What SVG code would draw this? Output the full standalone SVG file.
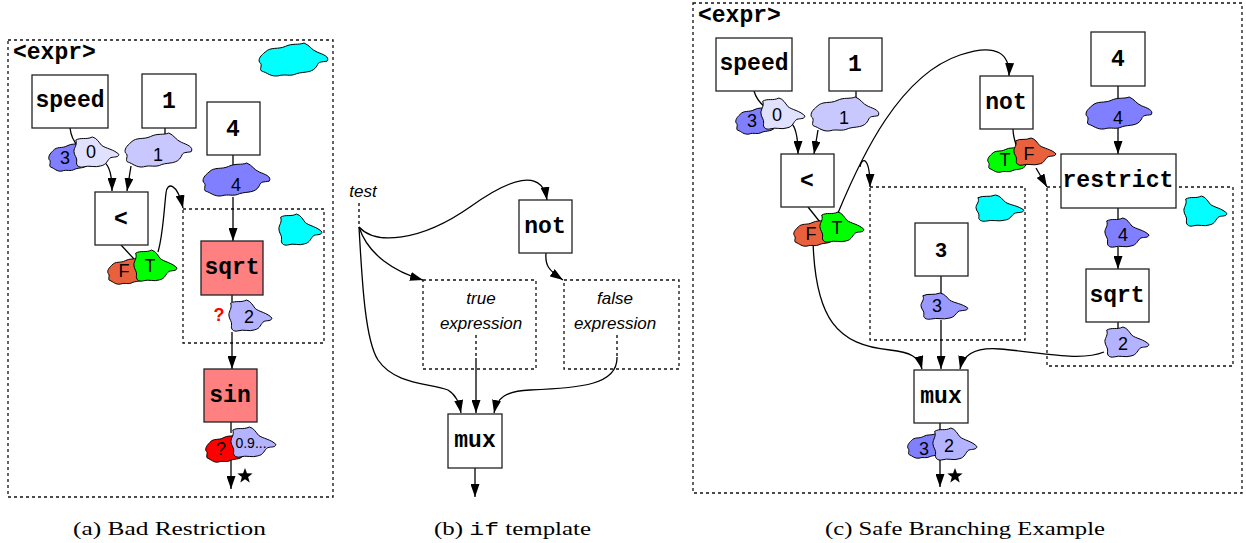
<svg xmlns="http://www.w3.org/2000/svg" xmlns:xlink="http://www.w3.org/1999/xlink" width="1246" height="543" viewBox="0 0 1246 543">
<style>
.box{fill:#fff;stroke:#222;stroke-width:1.3}
.red{fill:#ff8080;stroke:#222;stroke-width:1.3}
.dot{fill:none;stroke:#111;stroke-width:1.3;stroke-dasharray:3,3}
.ln{fill:none;stroke:#000;stroke-width:1.3}
.dl{fill:none;stroke:#000;stroke-width:1.3;stroke-dasharray:3,3}
.arr{marker-end:url(#ah)}
.mono{font-family:"Liberation Mono","DejaVu Sans Mono",monospace;font-weight:bold;font-size:23px;text-anchor:middle;fill:#000}
.sans{font-family:"Liberation Sans",Arial,sans-serif;font-size:18px;text-anchor:middle;fill:#000}
.ital{font-family:"Liberation Sans",Arial,sans-serif;font-style:italic;font-size:17px;text-anchor:middle;fill:#000}
.cap{font-family:"Liberation Serif","Times New Roman",serif;font-size:18px;fill:#000}
.expr{font-family:"Liberation Mono","DejaVu Sans Mono",monospace;font-weight:bold;font-size:23px;fill:#000}
</style>
<defs>
<marker id="ah" viewBox="0 0 13 9" refX="13" refY="4.5" markerWidth="13" markerHeight="9" markerUnits="userSpaceOnUse" orient="auto">
<path d="M0,0 L13,4.5 L0,9 Z" fill="#000"/>
</marker>
<path id="bW" vector-effect="non-scaling-stroke" stroke="#000" stroke-width="1" d="M5,8 C9,3 14,6 19,3 C24,0 28,2 32,0 C36,2 37,6 41,8 C45,10 50,12 48,16 C44,17 42,16 41,20 C38,27 32,25 27,27 C22,30 19,27 14,29 C9,30 6,26 3,25 C0,24 4,19 1,17 C0,14 2,11 5,8 Z"/>
<path id="bF" vector-effect="non-scaling-stroke" stroke="#000" stroke-width="1" d="M3,3 C9,0 14,3 21,0 C26,1 28,5 31,8 C35,11 45,12 50,17 C49,20 45,19 41,20 C37,22 37,27 30,28 C24,30 18,27 11,29 C6,30 3,27 4,24 C5,20 1,18 1,14 C1,10 5,8 3,3 Z"/>
<polygon id="star" points="0,-8 1.94,-2.67 7.61,-2.47 3.14,1.02 4.7,6.47 0,3.3 -4.7,6.47 -3.14,1.02 -7.61,-2.47 -1.94,-2.67" fill="#000"/>
</defs>
<rect width="1246" height="543" fill="#fff"/>

<!-- ================= Panel (a) ================= -->
<g id="a-frame">
<rect class="dot" x="8" y="40" width="325" height="457"/>
<text class="expr" x="13" y="59">&lt;expr&gt;</text>
<use href="#bW" transform="translate(258,43) scale(1.44,1.133)" fill="#00ffff"/>
</g>
<g id="a-inner-frame">
<rect class="dot" x="183" y="209" width="141" height="134"/>
<use href="#bF" transform="translate(278,214) scale(0.88,1.067)" fill="#00ffff"/>
</g>

<g id="a-connectors">
<path class="ln" d="M70,128 C71,136 74,142 78,146"/>
<path class="ln arr" d="M104,162 C110,166 112,175 112,191"/>
<path class="ln" d="M165,128 L165,135"/>
<path class="ln arr" d="M131,166 L127,191"/>
<path class="ln" d="M233,155 L233,166"/>
<path class="ln arr" d="M233,197 L233,241"/>
<path class="ln" d="M121,245 L134,259"/>
<path class="ln arr" d="M158,252 C163,235 164,210 166,193 C167,182 177,182 183,208"/>
<path class="ln" d="M232,294 L232,302"/>
<path class="ln arr" d="M232,332 L232,369"/>
<path class="ln" d="M231,422 L231,433"/>
<path class="ln arr" d="M231,458 L231,489"/>
</g>

<g id="a-speed"><rect class="box" x="32" y="75" width="76" height="53"/><text class="mono" x="70" y="107">speed</text></g>
<g id="a-one"><rect class="box" x="142" y="74" width="54" height="54"/><text class="mono" x="169" y="108">1</text></g>
<g id="a-four"><rect class="box" x="207" y="102" width="53" height="53"/><text class="mono" x="233" y="136">4</text></g>
<g id="a-lt"><rect class="box" x="95" y="192" width="53" height="53"/><text class="mono" x="121" y="226">&lt;</text></g>
<g id="a-sqrt"><rect class="red" x="201" y="241" width="62" height="54"/><text class="mono" x="232" y="274">sqrt</text></g>
<g id="a-sin"><rect class="red" x="204" y="369" width="53" height="53"/><text class="mono" x="230" y="402">sin</text></g>

<g id="a-blob-3"><use href="#bW" transform="translate(48,143) scale(1,0.967)" fill="#7f7fff"/><text class="sans" x="65" y="164">3</text></g>
<g id="a-blob-0"><use href="#bF" transform="translate(73,137) scale(0.92,1.033)" fill="#e0e0ff"/><text class="sans" x="91" y="158">0</text></g>
<g id="a-blob-1"><use href="#bW" transform="translate(124,133) scale(1.4,1.167)" fill="#c8c8ff"/><text class="sans" x="158" y="161">1</text></g>
<g id="a-blob-4"><use href="#bW" transform="translate(202,163) scale(1.4,1.133)" fill="#7f7fff"/><text class="sans" x="236" y="191">4</text></g>
<g id="a-blob-F"><use href="#bW" transform="translate(107,258) scale(0.96,0.9)" fill="#e8603c"/><text class="sans" x="124" y="277">F</text></g>
<g id="a-blob-T"><use href="#bF" transform="translate(133,250) scale(0.88,1.067)" fill="#00ff00"/><text class="sans" x="150" y="272">T</text></g>
<g id="a-blob-2"><use href="#bF" transform="translate(228,300) scale(0.88,1.067)" fill="#b3b3ff"/><text class="sans" x="249" y="323">2</text></g>
<g id="a-q1"><text class="sans" x="219" y="321" style="fill:#ff0000;font-weight:bold">?</text></g>
<g id="a-blob-q"><use href="#bW" transform="translate(205,435) scale(0.96,0.933)" fill="#ff0000"/><text class="sans" x="221" y="455">?</text></g>
<g id="a-blob-09"><use href="#bF" transform="translate(230,427) scale(0.92,1.033)" fill="#b3b3ff"/><text class="sans" x="251" y="448" style="font-size:14px">0.9...</text></g>
<g id="a-star"><use href="#star" transform="translate(245,476)"/></g>

<!-- ================= Panel (b) ================= -->
<g id="b-test"><text class="ital" x="363" y="197">test</text></g>
<g id="b-true"><rect class="dot" x="423" y="280" width="113" height="89"/><text class="ital" x="481" y="304">true</text><text class="ital" x="481" y="329">expression</text></g>
<g id="b-false"><rect class="dot" x="564" y="280" width="115" height="89"/><text class="ital" x="615" y="304">false</text><text class="ital" x="615" y="329">expression</text></g>

<g id="b-connectors">
<path class="dl" d="M359,203 L359,227"/>
<path class="ln arr" d="M359,227 C375,245 420,242 470,207 C510,178 542,168 547,200"/>
<path class="ln arr" d="M359,227 C368,255 395,272 423,280"/>
<path class="ln arr" d="M359,227 C362,280 365,340 378,360 C395,385 430,383 448,390 C456,395 459,402 461,413"/>
<path class="dl" d="M476,335 L476,358"/>
<path class="ln arr" d="M476,358 L476,413"/>
<path class="dl" d="M617,335 L617,357"/>
<path class="ln arr" d="M617,357 C618,385 580,388 530,390 C505,391 497,398 494,413"/>
<path class="ln arr" d="M546,253 C545,265 548,270 563,280"/>
<path class="ln arr" d="M475,468 L475,497"/>
</g>

<g id="b-not"><rect class="box" x="519" y="200" width="53" height="53"/><text class="mono" x="545" y="233">not</text></g>
<g id="b-mux"><rect class="box" x="448" y="414" width="54" height="54"/><text class="mono" x="475" y="447">mux</text></g>

<!-- ================= Panel (c) ================= -->
<g id="c-frame">
<rect class="dot" x="693" y="3" width="549" height="490"/>
<text class="expr" x="698" y="22">&lt;expr&gt;</text>
</g>
<g id="c-three-frame">
<rect class="dot" x="870" y="187" width="155" height="153"/>
<use href="#bF" transform="translate(975,195) scale(0.98,0.9)" fill="#00ffff"/>
</g>
<g id="c-restrict-frame">
<rect class="dot" x="1047" y="187" width="186" height="179"/>
<use href="#bF" transform="translate(1183,196) scale(0.88,1.033)" fill="#00ffff"/>
</g>

<g id="c-connectors">
<path class="ln" d="M754,91 C756,98 760,103 765,107"/>
<path class="ln arr" d="M790,122 C796,126 798,138 798,154"/>
<path class="ln" d="M856,91 L856,99"/>
<path class="ln arr" d="M818,130 L814,154"/>
<path class="ln" d="M808,207 L820,222"/>
<path class="ln arr" d="M838,213 C862,155 900,75 960,55 C998,42 1010,55 1009,76"/>
<path class="ln arr" d="M860,167 C862,156 870,157 870,187"/>
<path class="ln" d="M1013,129 C1013,136 1015,142 1017,148"/>
<path class="ln arr" d="M1036,168 L1047,187"/>
<path class="ln" d="M1118,86 L1118,99"/>
<path class="ln arr" d="M1118,123 L1118,154"/>
<path class="ln" d="M1118,208 L1118,220"/>
<path class="ln arr" d="M1118,247 L1118,269"/>
<path class="ln" d="M1118,322 L1118,329"/>
<path class="ln arr" d="M1104,352 C1080,362 1040,352 1000,349 C975,347 963,355 960,369"/>
<path class="ln arr" d="M813,240 C815,320 838,345 890,350 C910,352 919,357 922,369"/>
<path class="ln" d="M941,276 L941,296"/>
<path class="ln arr" d="M941,320 L941,369"/>
<path class="ln" d="M940,423 L940,433"/>
<path class="ln arr" d="M940,458 L940,487"/>
</g>

<g id="c-speed"><rect class="box" x="716" y="38" width="76" height="53"/><text class="mono" x="754" y="70">speed</text></g>
<g id="c-one"><rect class="box" x="829" y="38" width="53" height="53"/><text class="mono" x="855" y="71">1</text></g>
<g id="c-lt"><rect class="box" x="781" y="154" width="53" height="53"/><text class="mono" x="807" y="188">&lt;</text></g>
<g id="c-not"><rect class="box" x="980" y="76" width="53" height="53"/><text class="mono" x="1006" y="109">not</text></g>
<g id="c-four"><rect class="box" x="1091" y="32" width="54" height="54"/><text class="mono" x="1118" y="66">4</text></g>
<g id="c-restrict"><rect class="box" x="1061" y="154" width="115" height="54"/><text class="mono" x="1118" y="187" textLength="111" lengthAdjust="spacingAndGlyphs">restrict</text></g>
<g id="c-three"><rect class="box" x="915" y="223" width="53" height="53"/><text class="sans" x="941" y="257" style="font-weight:bold;font-size:21px">3</text></g>
<g id="c-sqrt"><rect class="box" x="1086" y="269" width="63" height="53"/><text class="mono" x="1117" y="302">sqrt</text></g>
<g id="c-mux"><rect class="box" x="914" y="370" width="54" height="53"/><text class="mono" x="941" y="403">mux</text></g>

<g id="c-blob-3"><use href="#bW" transform="translate(735,107) scale(1,0.933)" fill="#7f7fff"/><text class="sans" x="752" y="127">3</text></g>
<g id="c-blob-0"><use href="#bF" transform="translate(760,98) scale(0.9,1.067)" fill="#e0e0ff"/><text class="sans" x="777" y="121">0</text></g>
<g id="c-blob-1"><use href="#bW" transform="translate(810,97) scale(1.42,1.167)" fill="#c8c8ff"/><text class="sans" x="844" y="124">1</text></g>
<g id="c-blob-4a"><use href="#bW" transform="translate(1085,97) scale(1.38,1.1)" fill="#7f7fff"/><text class="sans" x="1118" y="124">4</text></g>
<g id="c-blob-Tn"><use href="#bW" transform="translate(987,147) scale(0.96,0.867)" fill="#00ff00"/><text class="sans" x="1005" y="166">T</text></g>
<g id="c-blob-Fn"><use href="#bF" transform="translate(1013,138) scale(0.86,0.933)" fill="#e8603c"/><text class="sans" x="1029" y="160">F</text></g>
<g id="c-blob-F"><use href="#bW" transform="translate(793,220) scale(1,0.9)" fill="#e8603c"/><text class="sans" x="811" y="240">F</text></g>
<g id="c-blob-T"><use href="#bF" transform="translate(819,212) scale(0.9,1.033)" fill="#00ff00"/><text class="sans" x="837" y="234">T</text></g>
<g id="c-blob-3b"><use href="#bF" transform="translate(920,293) scale(0.96,0.9)" fill="#9999ff"/><text class="sans" x="937" y="312">3</text></g>
<g id="c-blob-4b"><use href="#bF" transform="translate(1104,218) scale(0.9,1)" fill="#7f7fff"/><text class="sans" x="1123" y="241">4</text></g>
<g id="c-blob-2"><use href="#bF" transform="translate(1104,327) scale(0.9,1.033)" fill="#b3b3ff"/><text class="sans" x="1123" y="350">2</text></g>
<g id="c-blob-3m"><use href="#bW" transform="translate(907,434) scale(0.86,0.833)" fill="#8080ff"/><text class="sans" x="924" y="455">3</text></g>
<g id="c-blob-2m"><use href="#bF" transform="translate(932,428) scale(0.9,1.1)" fill="#b3b3ff"/><text class="sans" x="949" y="452">2</text></g>
<g id="c-star"><use href="#star" transform="translate(955,476)"/></g>

<!-- captions -->
<g id="captions">
<text class="cap" x="73" y="535" textLength="193" lengthAdjust="spacingAndGlyphs">(a) Bad Restriction</text>
<text class="cap" x="434" y="535" textLength="157" lengthAdjust="spacingAndGlyphs">(b) <tspan style="font-family:'Liberation Mono',monospace">if</tspan> template</text>
<text class="cap" x="825" y="535" textLength="280" lengthAdjust="spacingAndGlyphs">(c) Safe Branching Example</text>
</g>
</svg>
